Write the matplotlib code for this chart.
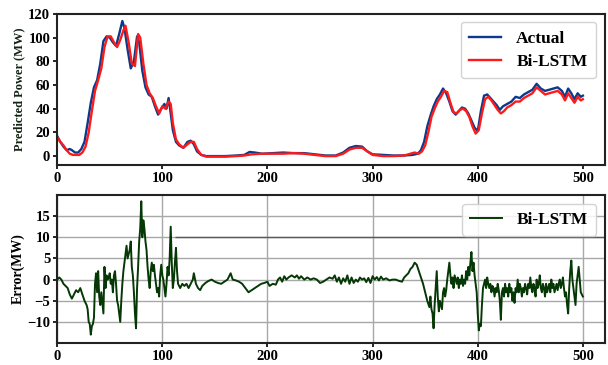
import matplotlib
matplotlib.use("Agg")
import matplotlib.pyplot as plt

# ---------------- data ----------------
act_x = [0, 3, 6, 9, 12, 14, 17, 20, 23, 26, 29, 32, 35, 38, 41, 44, 47, 50, 53, 56,
         59, 62, 64, 67, 70, 73, 76, 78, 81, 84, 87, 90, 93, 96, 99, 102, 104, 106, 108, 110,
         113, 116, 120, 124, 127, 130, 133, 137, 142, 150, 160, 170, 178, 183, 188, 195, 205, 215, 225, 235,
         245, 255, 265, 272, 278, 284, 290, 295, 300, 310, 320, 330, 338, 343, 346, 349, 352, 355, 358, 361,
         364, 367, 370, 373, 376, 379, 382, 385, 388, 391, 394, 397, 400, 403, 406, 409, 412, 415, 418, 421,
         424, 428, 432, 436, 440, 444, 448, 452, 456, 460, 464, 468, 472, 476, 480, 483, 486, 489, 492, 495,
         498, 500]
act_y = [17, 12, 8, 5, 6, 5, 3, 3, 6, 12, 28, 45, 58, 64, 78, 97, 101, 100, 96, 93,
         103, 114, 108, 90, 74, 80, 101, 96, 72, 58, 52, 50, 42, 35, 40, 44, 40, 49, 36, 22,
         12, 9, 7, 12, 13, 10, 4, 1, 0, 0, 0, 0.5, 1, 3.5, 3, 2, 2.5, 3, 2.5, 2.5,
         1.5, 0.5, 0.5, 3, 7, 8.5, 8, 4, 1.5, 1, 0.5, 0.5, 1, 2, 5, 12, 25, 34, 42, 48,
         52, 57, 53, 46, 38, 35, 38, 41, 40, 36, 30, 24, 21, 38, 51, 52, 49, 46, 43, 39,
         42, 44, 46, 50, 49, 52, 54, 56, 61, 57, 55, 56, 57, 58, 55, 50, 57, 53, 48, 53,
         50, 51]

pred_x = [0, 3, 6, 9, 12, 15, 18, 21, 24, 27, 30, 33, 36, 39, 42, 45, 48, 51, 54, 57,
          60, 63, 65, 68, 71, 74, 77, 79, 82, 85, 88, 91, 94, 97, 100, 103, 106, 108, 110, 113,
          116, 120, 124, 127, 130, 133, 137, 142, 150, 160, 170, 178, 185, 195, 205, 215, 225, 235, 245, 255,
          265, 272, 278, 284, 290, 295, 300, 310, 320, 330, 336, 340, 344, 347, 350, 353, 356, 359, 362, 365,
          368, 371, 374, 377, 380, 383, 386, 389, 392, 395, 398, 401, 404, 407, 410, 413, 416, 419, 422, 425,
          428, 432, 436, 440, 444, 448, 452, 456, 460, 464, 468, 472, 476, 480, 483, 486, 489, 492, 495, 498,
          500]
pred_y = [16, 12, 9, 5, 2, 1, 1, 1, 3, 8, 20, 38, 55, 64, 74, 92, 101, 101, 96, 92,
          98, 106, 110, 96, 78, 76, 103, 100, 78, 60, 53, 49, 42, 36, 42, 40, 46, 44, 28, 14,
          10, 7, 10, 12, 12, 6, 1, -0.5, -0.5, -0.5, 0, 0.5, 1.5, 2, 2, 2, 2.5, 2, 1, 0,
          0, 2, 5.5, 7, 7, 4, 1, 0, 0, 0.5, 2, 3, 2, 4, 9, 20, 33, 40, 46, 50,
          55, 54, 45, 37, 36, 39, 40, 38, 33, 25, 19, 22, 36, 48, 50, 47, 43, 39, 36, 38,
          41, 43, 46, 46, 49, 51, 53, 58, 55, 52, 53, 54, 55, 52, 47, 53, 49, 45, 50, 47,
          48]

err_x = [0, 2, 4, 6, 8, 10, 12, 14, 16, 18, 20, 22, 24, 26, 28, 29, 30, 31, 32, 33,
         34, 35, 36, 37, 38, 39, 40, 41, 42, 43, 44, 45, 46, 47, 48, 49, 50, 51, 52, 53,
         54, 55, 56, 57, 58, 59, 60, 61, 62, 63, 64, 65, 66, 67, 68, 69, 70, 71, 72, 73,
         74, 75, 76, 77, 78, 79, 80, 81, 82, 83, 84, 85, 86, 87, 88, 89, 90, 91, 92, 93,
         94, 95, 96, 97, 98, 99, 100, 101, 102, 103, 104, 105, 106, 107, 108, 109, 110, 111, 112, 113,
         114, 115, 117, 119, 121, 123, 125, 127, 129, 130, 132, 134, 136, 138, 141, 144, 147, 150, 153, 156,
         159, 162, 164, 165, 167, 170, 173, 176, 179, 182, 185, 188, 191, 194, 197, 200, 202, 205, 208, 210,
         212, 214, 216, 218, 220, 223, 226, 228, 230, 232, 235, 238, 241, 244, 247, 250, 253, 256, 259, 262,
         264, 266, 268, 270, 272, 274, 276, 278, 280, 282, 284, 286, 288, 290, 292, 294, 296, 298, 300, 302,
         304, 306, 308, 310, 313, 316, 319, 322, 325, 328, 330, 332, 334, 336, 338, 340, 342, 344, 346, 348,
         350, 352, 354, 355, 356, 357, 358, 359, 360, 361, 362, 363, 364, 365, 366, 367, 368, 369, 370, 371,
         372, 373, 374, 375, 376, 377, 378, 379, 380, 381, 382, 383, 384, 385, 386, 387, 388, 389, 390, 391,
         392, 393, 394, 395, 396, 397, 398, 399, 400, 401, 402, 403, 404, 405, 406, 407, 408, 409, 410, 411,
         412, 413, 414, 415, 416, 417, 418, 419, 420, 421, 422, 423, 424, 425, 426, 427, 428, 429, 430, 431,
         432, 433, 434, 435, 436, 437, 438, 439, 440, 441, 442, 443, 444, 445, 446, 447, 448, 449, 450, 451,
         452, 453, 454, 455, 456, 457, 458, 459, 460, 461, 462, 463, 464, 465, 466, 467, 468, 469, 470, 471,
         472, 473, 474, 475, 476, 477, 478, 479, 480, 481, 482, 483, 484, 485, 486, 487, 488, 489, 490, 491,
         492, 493, 494, 495, 496, 497, 498, 499, 500]
err_y = [0, 0.5, 0, -1, -1.5, -2, -3.5, -4.5, -3.5, -2.5, -3, -2, -3.5, -5, -6, -7, -10, -10.5, -13, -11,
         -10.5, -9, -1, 1.5, -3, 2, -4, -6, -3, -5.5, -8, 3, -2, 1, 0, 0.5, 1.5, -1, 0, -3,
         1, 2, -1, -5, -6, -8, -10, -5, -1, 2, 4, 6, 8, 5, 6, 7, 9, 3, 1, -3,
         -8, -11.5, -2, 3, 9, 12, 18.5, 10, 14, 12, 9, 7, 3, 0, -2, 2, 4, 2, 3.5, 1,
         -1, -3, -2, -4, 1, 3.5, 1, 0, -2, -4, -1, 3, 1, 5, 12.5, 4, -2, 0, 4, 7.5,
         2, -1, -2, -1, -1.5, -1, -2, -1, 0, 1.5, -1, -2, -2.5, -1.5, -0.8, -0.3, 0, -0.5, -0.8, -1,
         -0.5, 0, 1, 1.5, 0, -0.2, -0.5, -1, -2, -3, -2.5, -2, -1.5, -1, -0.8, -0.5, -1.5, -1, -1.2, 0,
         0.5, -0.5, 0.8, 0, 0.5, 1, 0.5, 1, 0.2, 0.8, 0, 0.5, 0, 0.3, 0, -0.8, -0.5, 0, 0.5, 0.2,
         1, -0.5, 0.5, -1, 0.3, -0.5, 1, -1, 0.5, -0.8, 0, -0.5, 0.5, 0, 0.3, -0.6, 0.4, -0.8, 0.8, 0,
         0.6, -0.2, 0.7, 0, 0.3, -0.2, 0, 0, -0.3, -0.5, 0.5, 1, 1.5, 2.5, 3, 4, 3.5, 2, 0.5, -1,
         -3, -5, -6.5, -4, -7, -8, -11.5, -6, -2, 2, -4, -7.5, -5, -6, -7, -3, -2, -4, -2.5, 0,
         2, 4, 1, -1, 0.5, -2, 1, 0, -1, 0.5, -2, 0, -1, 1, -1.5, 0, -1, 2, 0, 3,
         1, 4, 6.5, 2, 4, 1, -1, -3, -8, -12, -10.5, -11, -6, -2, -1, 0, -2, 0.5, -1, -2,
         -1, -3, -1.5, -2, -4, -2, -3, -1, -2.5, -5, -9.5, -3, -2, -4, -1, -3, -2, -4, -1, -3,
         -2, -5, -3, -5.5, -2, -3, 0, -3, -1, -2, -4, -2, -3, -1, -2, -3.5, -1, -2, 0.5, -2,
         -3, -1, -2, -4, 0, -2, -1, 1, -2, -3, -1, -2, -4, -1, -3, -2, -1, -3, 0, -2,
         -1, -3, -2, -1, -2.5, -1, 0, -2, -1, 0.5, -2, -4, -3, -6, -8, -2, 2, 4.5, 0, -2,
         -4, -6, -1, 1, 3, 0, -3, -3.5, -4]

x_ticks = [0, 100, 200, 300, 400, 500]
top_yticks = [0, 20, 40, 60, 80, 100, 120]
bot_yticks = [-10, -5, 0, 5, 10, 15]

# ---------------- style ----------------
plt.rcParams['font.family'] = ['Liberation Serif', 'DejaVu Serif']
plt.rcParams['font.weight'] = 'bold'

fig = plt.figure(figsize=(6.08, 3.65), dpi=100)
ax1 = fig.add_axes([0.094, 0.548, 0.901, 0.414])
ax2 = fig.add_axes([0.094, 0.060, 0.901, 0.406])

ax1.plot(act_x, act_y, color='#0b3a8c', lw=1.7, label='Actual')
ax1.plot(pred_x, pred_y, color='#ff1a1a', lw=1.7, label='Bi-LSTM')
ax1.set_xlim(0, 521)
ax1.set_ylim(-7.5, 120)
ax1.set_xticks(x_ticks)
ax1.set_yticks(top_yticks)
ax1.set_ylabel('Predicted Power (MW)', fontsize=9, fontweight='bold', color='#142414', labelpad=2)
ax1.legend(loc='upper right', bbox_to_anchor=(0.984, 0.947), borderaxespad=0,
           prop={'weight': 'bold', 'size': 12.5}, handlelength=1.8, handletextpad=0.9,
           borderpad=0.5, labelspacing=0.4, framealpha=0.85, edgecolor='#cccccc')

ax2.grid(True, color='#a8a8a8', lw=1.0)
ax2.set_axisbelow(True)
ax2.hlines(10, 112, 521, color='#5a5a5a', lw=1.0, zorder=1)
ax2.plot(err_x, err_y, color='#053805', lw=1.4, label='Bi-LSTM')
ax2.set_xlim(0, 521)
ax2.set_ylim(-15, 20)
ax2.set_xticks(x_ticks)
ax2.set_yticks(bot_yticks)
ax2.set_ylabel('Error(MW)', fontsize=10, fontweight='bold', labelpad=2)
ax2.legend(loc='upper right', bbox_to_anchor=(0.984, 0.94), borderaxespad=0,
           prop={'weight': 'bold', 'size': 12.5}, handlelength=1.8, handletextpad=0.9,
           borderpad=0.45, framealpha=0.85, edgecolor='#cccccc')

for ax in (ax1, ax2):
    for s in ax.spines.values():
        s.set_linewidth(1.5)
        s.set_color('#222222')
    ax.tick_params(labelsize=10.5, width=1.2, length=3, pad=2)
    for lab in ax.get_xticklabels() + ax.get_yticklabels():
        lab.set_fontweight('bold')

fig.savefig('out.png', dpi=100)
